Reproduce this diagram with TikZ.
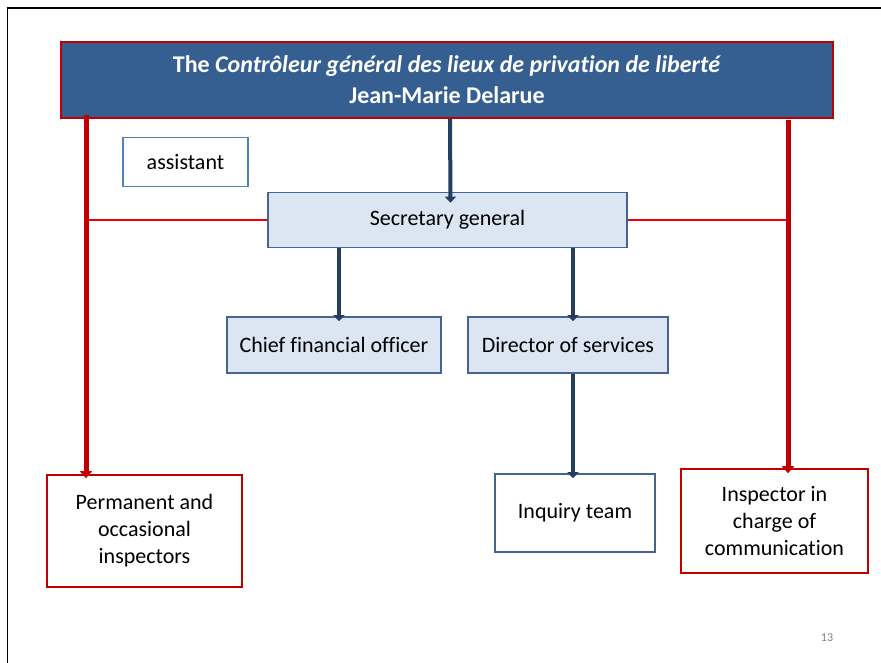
\documentclass[tikz,border=0pt]{standalone}
\usepackage{fontspec}
\setmainfont{Carlito}[Ligatures=NoCommon]
\usetikzlibrary{arrows.meta,calc}
\definecolor{titlefill}{RGB}{54,95,145}
\definecolor{darkred}{RGB}{192,0,0}
\definecolor{navy}{RGB}{36,62,96}
\definecolor{lightfill}{RGB}{220,230,242}
\definecolor{boxblue}{RGB}{79,129,189}
\definecolor{secborder}{RGB}{70,100,145}
\definecolor{linered}{RGB}{240,0,0}
\begin{document}
\begin{tikzpicture}[x=1pt,y=-1pt,
  box/.style={draw, line width=1.6pt, align=center, inner sep=0pt, font=\fontsize{22}{27}\selectfont},
  bluebox/.style={box, draw=boxblue, fill=white},
  secbox/.style={box, draw=secborder, fill=lightfill},
  redbox/.style={box, draw=darkred, fill=white},
  titlebox/.style={box, draw=darkred, fill=titlefill, text=white, font=\fontsize{24}{31}\selectfont\bfseries},
  navyarrow/.style={draw=navy, line width=4pt, -{Triangle[width=11pt,length=6pt]}},
  redarrow/.style={draw=darkred, line width=5pt, -{Triangle[width=12pt,length=7pt]}},
  thinred/.style={draw=linered, line width=1.3pt}
]
\useasboundingbox (0,0) rectangle (881,663);
\draw[line width=1.6pt] (7.5,663) -- (7.5,8) -- (881,8);

\coordinate (lx) at (86,0);
\coordinate (rx) at (788,0);

\node[titlebox, minimum width=772pt, minimum height=76pt] (top) at (447,80)
  {The \textit{Contrôleur général des lieux de privation de liberté}\\Jean-Marie Delarue};
\node[bluebox, minimum width=125pt, minimum height=49pt] (asst) at (185.5,162) {assistant};
\node[secbox, minimum width=359pt, minimum height=55pt] (sec) at (447.5,220) {Secretary general};
\node[secbox, minimum width=214pt, minimum height=56pt] (cfo) at (334,345) {Chief financial officer};
\node[secbox, minimum width=200pt, minimum height=56pt] (dos) at (568,345) {Director of services};
\node[bluebox, draw=secborder, minimum width=160pt, minimum height=78pt] (inq) at (575,513) {Inquiry team};
\node[redbox, minimum width=195pt, minimum height=112pt] (perm) at (144.5,531) {Permanent and\\occasional\\inspectors};
\node[redbox, minimum width=187pt, minimum height=104pt] (insp) at (774.5,521) {Inspector in\\charge of\\communication};

\coordinate (cx) at (339,0);
\coordinate (dx) at (573,0);

\draw[thinred] (sec.west) -- (sec.west -| lx);
\draw[thinred] (sec.east) -- (sec.east -| rx);

\draw[redarrow] ([yshift=4pt]top.south -| lx) -- ([yshift=-4pt]perm.north -| lx);
\draw[redarrow] ([yshift=-1pt]top.south -| rx) -- ([yshift=-5pt]insp.north -| rx);

\draw[navyarrow] ([xshift=3pt]top.south) -- ([xshift=3pt,yshift=-11pt]sec.north);
\draw[navyarrow] (sec.south -| cx) -- ([yshift=-5pt]cfo.north -| cx);
\draw[navyarrow] (sec.south -| dx) -- ([yshift=-5pt]dos.north -| dx);
\draw[navyarrow] (dos.south -| dx) -- ([yshift=-5pt]inq.north -| dx);

\node[text=gray, font=\fontsize{12}{14}\selectfont] (pg) at (827,638) {13};
\end{tikzpicture}
\end{document}
